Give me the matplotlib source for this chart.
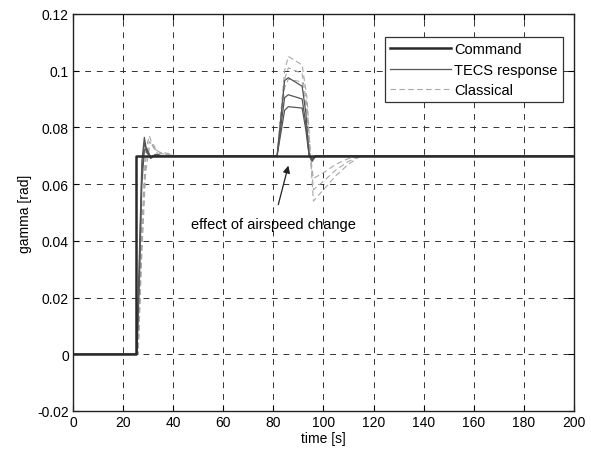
import numpy as np
import matplotlib.pyplot as plt

plt.rcParams['font.family'] = ['Liberation Sans', 'DejaVu Sans']

# command
t_cmd = [0, 25, 25, 200]
g_cmd = [0, 0, 0.07, 0.07]

# TECS response (three runs)
t_tecs = [0, 25.5, 26.5, 27.5, 28.5, 29.5, 31, 33, 36, 40, 81.5, 84.5, 86, 91.5, 93, 94.3, 95.5, 97, 200]
g_tecs1 = [0, 0, 0.035, 0.068, 0.0765, 0.071, 0.0695, 0.0705, 0.0698, 0.070, 0.070, 0.0965, 0.0975, 0.0945, 0.085, 0.070, 0.068, 0.070, 0.070]
g_tecs2 = [0, 0, 0.030, 0.064, 0.0745, 0.072, 0.069, 0.0703, 0.0699, 0.070, 0.070, 0.0905, 0.0915, 0.090, 0.081, 0.070, 0.0685, 0.070, 0.070]
g_tecs3 = [0, 0, 0.025, 0.060, 0.072, 0.0725, 0.0695, 0.0702, 0.070, 0.070, 0.070, 0.086, 0.0873, 0.0868, 0.079, 0.070, 0.069, 0.070, 0.070]

# classical (three runs)
t_cls = [0, 26, 27.5, 29, 30.5, 32, 34, 37, 41, 81.5, 84.5, 86, 91.5, 93.5, 94.8, 96, 100, 105, 110, 115, 200]
g_cls1 = [0, 0, 0.045, 0.072, 0.077, 0.073, 0.0705, 0.071, 0.070, 0.070, 0.100, 0.105, 0.102, 0.090, 0.070, 0.054, 0.058, 0.063, 0.067, 0.070, 0.070]
g_cls2 = [0, 0, 0.040, 0.068, 0.075, 0.0735, 0.071, 0.0705, 0.070, 0.070, 0.097, 0.101, 0.099, 0.087, 0.070, 0.058, 0.061, 0.065, 0.068, 0.070, 0.070]
g_cls3 = [0, 0, 0.035, 0.064, 0.073, 0.074, 0.0715, 0.0705, 0.070, 0.070, 0.094, 0.097, 0.096, 0.085, 0.070, 0.062, 0.064, 0.067, 0.069, 0.070, 0.070]

xticks = np.arange(0, 201, 20)
yticks = np.arange(-0.02, 0.121, 0.02)
ytick_labels = ['-0.02', '0', '0.02', '0.04', '0.06', '0.08', '0.1', '0.12']


def main():
    fig = plt.figure(figsize=(5.91, 4.52), dpi=100)
    ax = fig.add_axes([0.1235, 0.0885, 0.8475, 0.8785])

    ax.plot(t_cls, g_cls1, color='#a8a8a8', lw=0.8, ls=(0, (5, 3)), label='Classical')
    ax.plot(t_cls, g_cls2, color='#a8a8a8', lw=0.8, ls=(0, (5, 3)))
    ax.plot(t_cls, g_cls3, color='#a8a8a8', lw=0.8, ls=(0, (5, 3)))
    ax.plot(t_tecs, g_tecs1, color='#555555', lw=0.9, label='TECS response')
    ax.plot(t_tecs, g_tecs2, color='#555555', lw=0.9)
    ax.plot(t_tecs, g_tecs3, color='#555555', lw=0.9)
    ax.plot(t_cmd, g_cmd, color='#2a2a2a', lw=1.8, label='Command')

    ax.set_xlim(0, 200)
    ax.set_ylim(-0.02, 0.12)
    ax.set_xticks(xticks)
    ax.set_yticks(yticks)
    ax.set_yticklabels(ytick_labels)
    ax.tick_params(direction='in', top=True, right=True, labelsize=10, length=4, pad=3)
    ax.grid(True, color='#333333', ls=(0, (6, 6)), lw=0.7)
    for s in ax.spines.values():
        s.set_linewidth(1.0)
        s.set_color('#222222')

    ax.set_xlabel('time [s]', fontsize=10, labelpad=1)
    ax.set_ylabel('gamma [rad]', fontsize=10, labelpad=4)

    h, l = ax.get_legend_handles_labels()
    order = [2, 1, 0]
    leg = ax.legend([h[i] for i in order], [l[i] for i in order], loc='upper right',
                    bbox_to_anchor=(0.978, 0.942), borderaxespad=0, fontsize=10.5,
                    fancybox=False, edgecolor='#333333', framealpha=1,
                    handlelength=4.2, borderpad=0.35, labelspacing=0.45,
                    handletextpad=0.2)
    leg.get_frame().set_linewidth(0.9)

    ax.annotate('effect of airspeed change', xy=(86, 0.0665), xytext=(80, 0.046),
                ha='center', va='center', fontsize=10.5,
                arrowprops=dict(arrowstyle='-|>', color='#222222', lw=0.9,
                                shrinkA=7, shrinkB=0))

    fig.savefig('out.png', dpi=100)


if __name__ == "__main__":
    main()
